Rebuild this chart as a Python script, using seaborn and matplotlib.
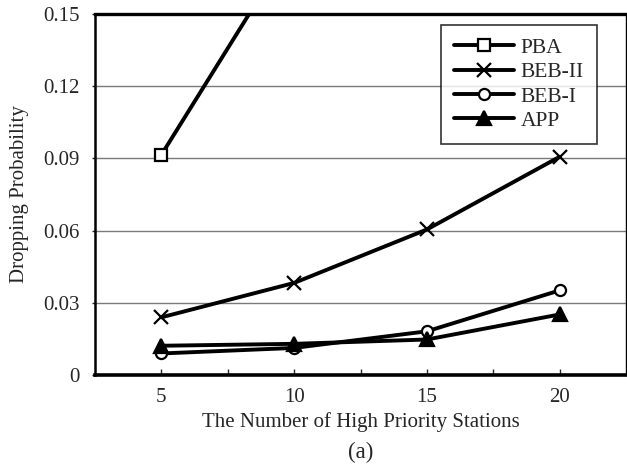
import matplotlib
matplotlib.use('Agg')
import matplotlib.pyplot as plt
import seaborn as sns
import pandas as pd

# Data
stations = [5, 10, 15, 20]
pba = [0.0915, 0.18, 0.27, 0.36]
beb2 = [0.024, 0.0383, 0.0605, 0.0907]
beb1 = [0.009, 0.0113, 0.0182, 0.0352]
app = [0.0122, 0.013, 0.0148, 0.0252]
y_ticks = [0, 0.03, 0.06, 0.09, 0.12, 0.15]
y_labels = ['0', '0.03', '0.06', '0.09', '0.12', '0.15']

sns.set_style('white')
plt.rcParams['font.family'] = ['Liberation Serif', 'DejaVu Serif']

fig = plt.figure(figsize=(6.27, 4.66), dpi=100)
ax = fig.add_axes([0.1515, 0.195, 0.8470, 0.775])

pos = list(range(len(stations)))
series = [
    ('PBA', pba, 's', 'white', 9),
    ('BEB-II', beb2, 'x', 'black', 10),
    ('BEB-I', beb1, 'o', 'white', 8),
    ('APP', app, '^', 'black', 10),
]

# horizontal grid lines
for yv in y_ticks[1:]:
    ax.axhline(yv, color='#7a7a7a', lw=1.0, zorder=0)

for name, vals, mk, fc, ms in series:
    df = pd.DataFrame({'pos': pos, 'val': vals})
    sns.lineplot(data=df, x='pos', y='val', ax=ax, color='black', lw=2.8,
                 marker=mk, markersize=ms, markerfacecolor=fc,
                 markeredgecolor='black', markeredgewidth=1.6, label=name)

ax.set_xlim(-0.5, len(stations) - 0.5)
ax.set_ylim(0, 0.15)
ax.set_xticks(pos)
ax.set_xticklabels([str(s) for s in stations])
ax.set_xticks([p + 0.5 for p in pos[:-1]], minor=True)
ax.set_yticks(y_ticks)
ax.set_yticklabels(y_labels)
ax.tick_params(axis='x', which='both', direction='in', length=4, width=1,
               labelsize=15, pad=9, bottom=True)
ax.tick_params(axis='y', direction='out', length=2, width=1, left=True,
               labelsize=15, pad=9)

ax.set_xlabel('The Number of High Priority Stations', fontsize=15, labelpad=4)
ax.set_ylabel('Dropping Probability', fontsize=15, labelpad=10)

for side, w in [('left', 1.8), ('bottom', 2.6), ('top', 2.4), ('right', 1.0)]:
    ax.spines[side].set_visible(True)
    ax.spines[side].set_color('black')
    ax.spines[side].set_linewidth(w)

leg = ax.legend(loc='upper right', bbox_to_anchor=(0.945, 0.97), fontsize=15.5,
                frameon=True, fancybox=False, edgecolor='black',
                handlelength=2.8, labelspacing=0.2, borderpad=0.6,
                handletextpad=0.3, borderaxespad=0)
leg.get_frame().set_linewidth(1.2)

fig.text(0.575, 0.03, '(a)', fontsize=16.5, ha='center', va='center')

fig.savefig('out.png', dpi=100)
